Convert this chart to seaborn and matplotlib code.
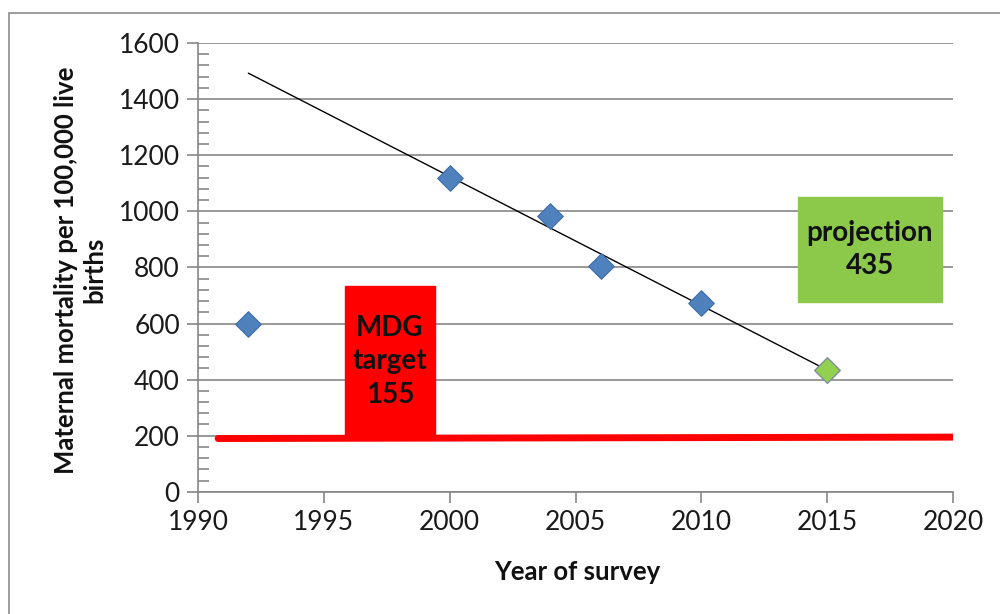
import numpy as np
import matplotlib
matplotlib.use("Agg")
import matplotlib.pyplot as plt
import seaborn as sns
from matplotlib.patches import Rectangle
from matplotlib.ticker import MultipleLocator

# survey data
years = [1992, 2000, 2004, 2006, 2010]
mmr = [597, 1117, 982, 805, 672]
proj_year = [2015]
proj_mmr = [435]

# MDG target line (drawn level as in the original) and annotation boxes
target_line_x = [1990.8, 2020.1]
target_line_y = [190, 195]
mdg_box = (1995.85, 195, 3.55, 540)        # x, y, width, height
proj_box = (2013.85, 677, 5.7, 375)

sns.set_theme(style="white")
plt.rcParams['font.family'] = ['Lato', 'DejaVu Sans']

fig = plt.figure(figsize=(10, 6.14), dpi=100)
ax = fig.add_axes([0.198, 0.199, 0.755, 0.731])

# outer chart-area frame
fig.patches.append(Rectangle((0.009, -0.02), 1.0, 0.999, transform=fig.transFigure,
                             fill=False, edgecolor='#8c8c8c', linewidth=1.2))

ax.set_xlim(1990, 2020)
ax.set_ylim(0, 1600)
ax.yaxis.set_major_locator(MultipleLocator(200))
ax.yaxis.set_minor_locator(MultipleLocator(40))
ax.xaxis.set_major_locator(MultipleLocator(5))
ax.grid(axis='y', color='#868686', linewidth=1.2)
ax.set_axisbelow(True)
for s in ['top', 'right']:
    ax.spines[s].set_visible(False)
for s in ['left', 'bottom']:
    ax.spines[s].set_color('#868686')
    ax.spines[s].set_linewidth(1.2)
ax.tick_params(axis='y', which='major', direction='out', length=8, width=1.2,
               color='#868686', left=True, labelsize=19, pad=5, labelcolor='#1a1a1a')
ax.tick_params(axis='y', which='minor', direction='in', length=8, width=1.2,
               color='#868686', left=True)
ax.tick_params(axis='x', which='major', direction='out', length=8, width=1.2,
               color='#868686', bottom=True, labelsize=19, pad=5, labelcolor='#1a1a1a')

# boxes
ax.add_patch(Rectangle(mdg_box[:2], mdg_box[2], mdg_box[3], color='#ff0000', zorder=2))
ax.add_patch(Rectangle(proj_box[:2], proj_box[2], proj_box[3], color='#8cc94a', zorder=2))
ax.text(mdg_box[0] + mdg_box[2] / 2, mdg_box[1] + mdg_box[3] / 2, "MDG\ntarget\n155",
        ha='center', va='center', fontsize=20, fontweight='bold', color='#111111',
        linespacing=1.35, zorder=3)
ax.text(proj_box[0] + proj_box[2] / 2, proj_box[1] + proj_box[3] / 2, "projection\n435",
        ha='center', va='center', fontsize=20, fontweight='bold', color='#111111',
        linespacing=1.35, zorder=3)

# MDG target line
sns.lineplot(x=target_line_x, y=target_line_y, color='#ff0000', linewidth=5, ax=ax, zorder=3)

# linear trend through the 2000-2015 values, drawn from 1992 to 2015
fit_x = np.array(years[1:] + proj_year)
fit_y = np.array(mmr[1:] + proj_mmr)
slope, intercept = np.polyfit(fit_x, fit_y, 1)
trend_x = np.array([1992, 2015])
sns.lineplot(x=trend_x, y=slope * trend_x + intercept, color='black', linewidth=1, ax=ax, zorder=4)

# points
sns.scatterplot(x=years, y=mmr, marker='D', s=170, color='#4f81bd', edgecolor='#3d6da8',
                linewidth=0.8, ax=ax, zorder=5)
sns.scatterplot(x=proj_year, y=proj_mmr, marker='D', s=170, color='#92d050', edgecolor='#7f8f9f',
                linewidth=1, ax=ax, zorder=5)

ax.set_xlabel("Year of survey", fontsize=18.5, fontweight='bold', color='#111111')
ax.set_ylabel("Maternal mortality per 100,000 live\nbirths", fontsize=18.5, fontweight='bold',
              linespacing=1.2, color='#111111')
ax.xaxis.set_label_coords(0.502, -0.152)
ax.xaxis.label.set_verticalalignment('top')
ax.yaxis.set_label_coords(-0.122, 0.494)

fig.savefig("out.png", dpi=100)
